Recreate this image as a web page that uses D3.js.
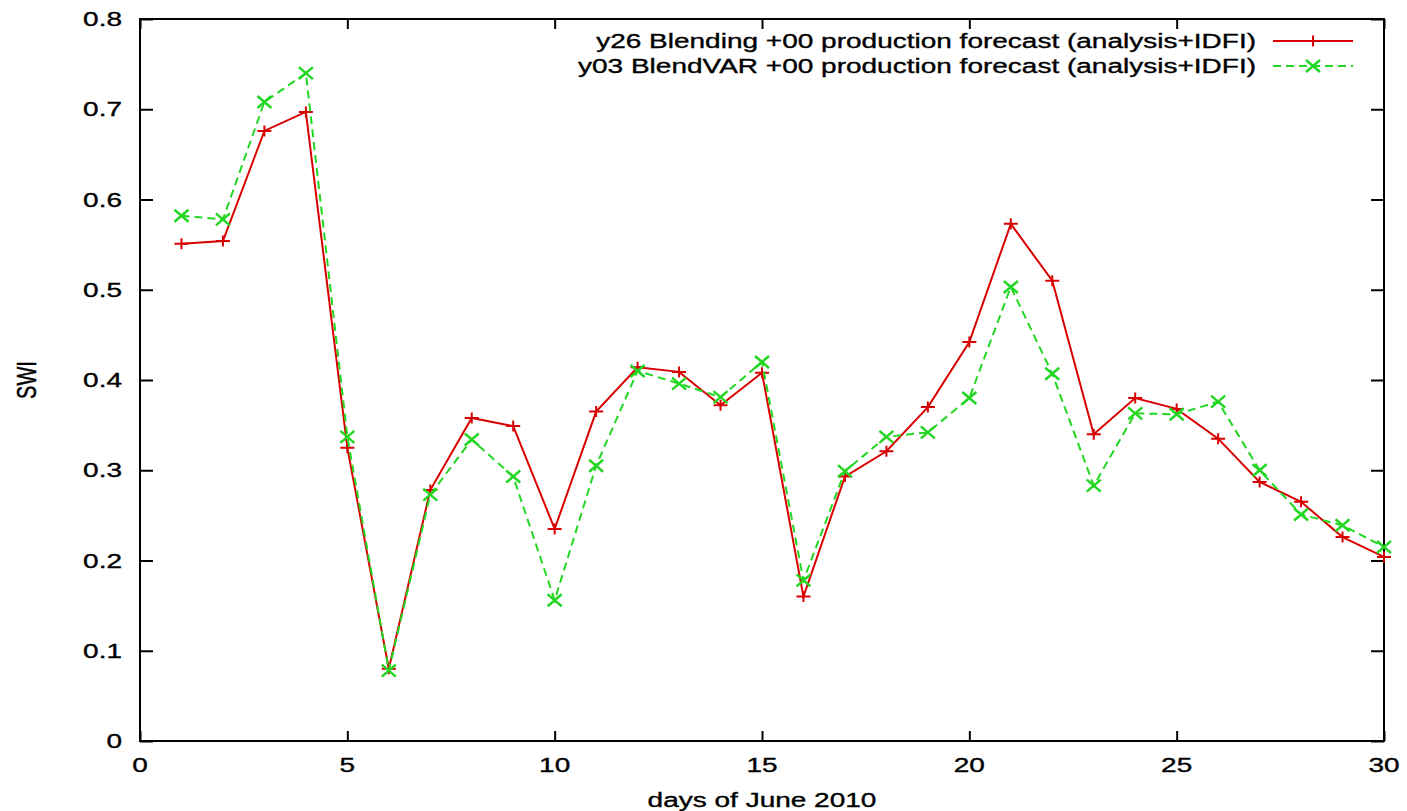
<!DOCTYPE html>
<html>
<head>
<meta charset="utf-8">
<script src="https://cdn.jsdelivr.net/npm/d3@7"></script>
<style>
  body { margin: 0; background: white; }
  text { font-family: "Liberation Sans", Arial, sans-serif; fill: black; stroke: black; stroke-width: 0.35px; }
</style>
</head>
<body>
<div id="plot"></div>
<script>
// days of June 2010
const days = [1, 2, 3, 4, 5, 6, 7, 8, 9, 10, 11, 12, 13, 14, 15,
              16, 17, 18, 19, 20, 21, 22, 23, 24, 25, 26, 27, 28, 29, 30];

// y26 Blending (red, solid, +)
const blending = [0.551, 0.554, 0.676, 0.697, 0.325, 0.080, 0.278, 0.358, 0.349, 0.235,
                  0.365, 0.414, 0.409, 0.372, 0.408, 0.160, 0.293, 0.321, 0.370, 0.442,
                  0.573, 0.510, 0.340, 0.380, 0.368, 0.335, 0.287, 0.265, 0.226, 0.204];

// y03 BlendVAR (green, dashed, x)
const blendvar = [0.582, 0.578, 0.708, 0.740, 0.337, 0.078, 0.273, 0.334, 0.293, 0.156,
                  0.305, 0.410, 0.396, 0.381, 0.420, 0.178, 0.299, 0.337, 0.342, 0.380,
                  0.503, 0.407, 0.283, 0.363, 0.362, 0.376, 0.300, 0.251, 0.239, 0.215];

const seriesNames = ["y26 Blending +00 production forecast (analysis+IDFI)",
                     "y03 BlendVAR +00 production forecast (analysis+IDFI)"];

const xTicks = [0, 5, 10, 15, 20, 25, 30];
const yTicks = [0, 0.1, 0.2, 0.3, 0.4, 0.5, 0.6, 0.7, 0.8];

const width = 1407;
const height = 811;
const margin = {top: 19, right: 23, bottom: 70, left: 140};

const red = "#d80000";
const green = "#22d622";
// the original picture is stretched sideways, text included
const stretch = 1.4;
const fontSize = 20;

const svg = d3.select("div#plot")
    .append("svg")
    .attr("width", width)
    .attr("height", height);

const x = d3.scaleLinear()
    .domain([0, 30])
    .range([margin.left, width - margin.right]);

const y = d3.scaleLinear()
    .domain([0, 0.8])
    .range([height - margin.bottom, margin.top]);

function label(g, tx, ty, str, anchor) {
    return g.append("text")
        .attr("transform", `translate(${tx},${ty}) scale(${stretch},1)`)
        .attr("text-anchor", anchor)
        .style("font-size", fontSize + "px")
        .text(str);
}

// ticks pointing inward, mirrored on top and right
const fmtY = d => d === 0 ? "0" : d3.format(".1f")(d);

svg.append("g")
    .attr("transform", `translate(0,${y(0)})`)
    .call(d3.axisTop(x).tickValues(xTicks).tickSize(10).tickFormat(""))
    .call(g => g.select(".domain").remove());
svg.append("g")
    .attr("transform", `translate(0,${y(0.8)})`)
    .call(d3.axisBottom(x).tickValues(xTicks).tickSize(10).tickFormat(""))
    .call(g => g.select(".domain").remove());
svg.append("g")
    .attr("transform", `translate(${x(0)},0)`)
    .call(d3.axisRight(y).tickValues(yTicks).tickSize(13).tickFormat(""))
    .call(g => g.select(".domain").remove());
svg.append("g")
    .attr("transform", `translate(${x(30)},0)`)
    .call(d3.axisLeft(y).tickValues(yTicks).tickSize(13).tickFormat(""))
    .call(g => g.select(".domain").remove());

svg.selectAll(".tick line")
    .attr("stroke", "black")
    .attr("stroke-width", 2);

// tick labels
const xLab = svg.append("g");
xTicks.forEach(d => label(xLab, x(d), y(0) + 31, d, "middle"));

const yLab = svg.append("g");
yTicks.forEach(d => label(yLab, x(0) - 18, y(d) + 7, fmtY(d), "end"));

// frame
svg.append("rect")
    .attr("x", x(0))
    .attr("y", y(0.8))
    .attr("width", x(30) - x(0))
    .attr("height", y(0) - y(0.8))
    .attr("fill", "none")
    .attr("stroke", "black")
    .attr("stroke-width", 2);

// axis titles
label(svg, (x(0) + x(30)) / 2, height - 4, "days of June 2010", "middle");

svg.append("text")
    .attr("transform", `translate(36,${(y(0) + y(0.8)) / 2}) rotate(-90) scale(1,${stretch})`)
    .attr("text-anchor", "middle")
    .style("font-size", fontSize + "px")
    .text("SWI");

const line = d3.line()
    .x(d => x(d[0]))
    .y(d => y(d[1]));

const redPts = days.map((d, i) => [d, blending[i]]);
const greenPts = days.map((d, i) => [d, blendvar[i]]);

const plusPath = (cx, cy) => `M${cx - 7},${cy}H${cx + 7}M${cx},${cy - 5.5}V${cy + 5.5}`;
const crossPath = (cx, cy) => `M${cx - 7},${cy - 6}L${cx + 7},${cy + 6}M${cx - 7},${cy + 6}L${cx + 7},${cy - 6}`;

// red series
svg.append("path")
    .datum(redPts)
    .attr("d", line)
    .attr("fill", "none")
    .attr("stroke", red)
    .attr("stroke-width", 2);
svg.append("g")
    .selectAll("path")
    .data(redPts)
    .enter().append("path")
    .attr("d", d => plusPath(x(d[0]), y(d[1])))
    .attr("stroke", red)
    .attr("stroke-width", 2);

// green series
svg.append("path")
    .datum(greenPts)
    .attr("d", line)
    .attr("fill", "none")
    .attr("stroke", green)
    .attr("stroke-width", 2)
    .attr("stroke-dasharray", "8,5");
svg.append("g")
    .selectAll("path")
    .data(greenPts)
    .enter().append("path")
    .attr("d", d => crossPath(x(d[0]), y(d[1])))
    .attr("stroke", green)
    .attr("stroke-width", 2.5);

// legend
const legend = svg.append("g");
const legRows = [
    {name: seriesNames[0], color: red, dash: null, marker: plusPath, sw: 2},
    {name: seriesNames[1], color: green, dash: "8,5", marker: crossPath, sw: 2.5}
];
legRows.forEach((r, i) => {
    const ly = 41 + i * 25;
    label(legend, 1256, ly + 7, r.name, "end");
    legend.append("line")
        .attr("x1", 1273).attr("x2", 1353)
        .attr("y1", ly).attr("y2", ly)
        .attr("stroke", r.color)
        .attr("stroke-width", 2)
        .attr("stroke-dasharray", r.dash);
    legend.append("path")
        .attr("d", r.marker(1313, ly))
        .attr("stroke", r.color)
        .attr("stroke-width", r.sw);
});
</script>
</body>
</html>
